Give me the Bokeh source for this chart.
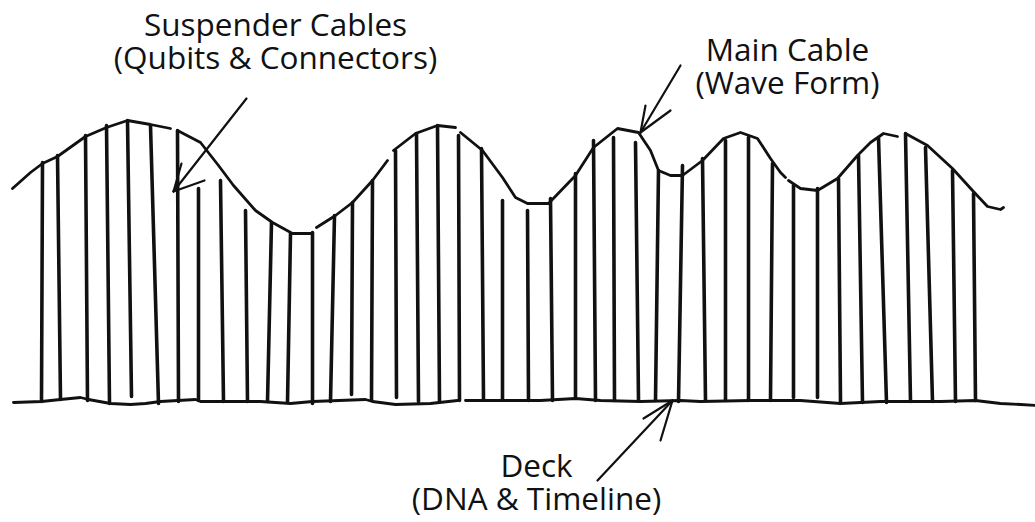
from bokeh.plotting import figure
from bokeh.models import Range1d
from bokeh.core.properties import value
from bokeh.embed import file_html
from bokeh.resources import INLINE

NAN = float("nan")

# Suspender cables (qubits & connectors): top end on the main cable, bottom end on the deck
hanger_top_x = [42, 57, 85, 106, 127, 150, 177, 198, 220, 245, 271, 290, 312, 334, 352, 372, 395,
                416, 437, 458, 481, 502, 527, 550, 575, 593, 613, 635, 658, 682, 702, 725, 748,
                772, 793, 817, 838, 858, 878, 905, 925, 952, 973]
hanger_top_y = [162, 155, 135, 125, 120, 125, 130, 188, 180, 210, 222, 233, 232, 215, 202, 180, 150,
                133, 125, 135, 148, 200, 210, 198, 173, 140, 137, 142, 170, 165, 158, 140, 137,
                163, 185, 188, 178, 155, 137, 133, 147, 170, 193]
hanger_base_x = [41, 60, 87, 109, 131, 158, 178, 198, 223, 247, 267, 287, 312, 330, 351, 371, 396,
                 418, 439, 459, 483, 502, 528, 552, 575, 595, 614, 638, 655, 678, 705, 725, 748,
                 770, 793, 817, 840, 862, 886, 910, 932, 955, 975]
hanger_base_y = [401, 399, 400, 403, 396, 403, 401, 400, 401, 401, 401, 402, 403, 401, 394, 400, 397,
                 401, 401, 400, 399, 399, 400, 400, 397, 400, 400, 400, 400, 401, 400, 400, 400,
                 400, 397, 397, 401, 402, 402, 401, 401, 401, 400]

# Main cable (wave form), NaN = pen lifted
cable_x = [12, 30, 42, 57, 85, 106, 127, 150, 170, NAN,
           177, 200, 218, 233, 255, 272, 292, 312, NAN,
           316, 335, 352, 372, 387, NAN,
           393, 415, 437, 455, NAN,
           460, 482, 502, 515, 527, 548, 575, 593, 617, 638, 650, 658, 670, 682, 702, 723, 740,
           757, 770, 780, 785, NAN,
           788, 800, 817, 837, 857, 870, 883, 897, NAN,
           905, 927, 952, 972, 987, 1000, 1003]
cable_y = [188, 172, 163, 156, 136, 127, 120, 124, 128, NAN,
           130, 142, 165, 185, 210, 222, 233, 233, NAN,
           227, 215, 202, 180, 160, NAN,
           150, 133, 125, 127, NAN,
           132, 150, 177, 197, 203, 203, 175, 147, 128, 132, 150, 170, 175, 175, 160, 138, 132,
           138, 158, 172, 177, NAN,
           180, 188, 190, 178, 155, 142, 133, 136, NAN,
           133, 145, 168, 190, 206, 209, 207]

# Deck (DNA & timeline)
deck_x = [13, 41, 60, 80, 88, 110, 130, 145, 160, 195, 200, 260, 290, 312, 365, 372, 395, 430, 457, NAN,
          465, 540, 575, 600, 640, 680, 700, 750, 800, 840, 880, 940, 975, 1000, 1020, 1035]
deck_y = [402, 401, 399, 397, 399, 403, 404, 403, 401, 399, 401, 401, 403, 401, 399, 401, 404, 403, 400, NAN,
          400, 400, 398, 400, 401, 400, 401, 400, 400, 403, 401, 401, 400, 403, 404, 405]

# Annotation arrows: (tail, tip) and the two barbs
arrow_tail = [(246, 98), (680, 65), (597, 480)]
arrow_tip = [(173, 191), (640, 132), (672, 400)]
arrow_barb1 = [(181, 163), (645, 105), (643, 418)]
arrow_barb2 = [(204, 180), (670, 110), (660, 440)]

labels = [["Suspender Cables", "(Qubits & Connectors)"],
          ["Main Cable", "(Wave Form)"],
          ["Deck", "(DNA & Timeline)"]]
label_cx = [275, 787, 536]
label_base = [23, 48, 464]

INK = "#111111"
W, H = 1035, 520

p = figure(width=W, height=H, output_backend="svg", toolbar_location=None,
           x_range=Range1d(0, W), y_range=Range1d(H, 0),
           min_border=0, min_border_left=0, min_border_right=0,
           min_border_top=0, min_border_bottom=0)
p.axis.visible = False
p.grid.visible = False
p.outline_line_color = None
p.background_fill_color = "white"
p.border_fill_color = "white"

p.segment(x0=hanger_base_x, y0=hanger_base_y, x1=hanger_top_x, y1=hanger_top_y,
          line_color=INK, line_width=3.6, line_cap="round")
p.line(cable_x, cable_y, line_color=INK, line_width=2.8, line_cap="round", line_join="round")
p.line(deck_x, deck_y, line_color=INK, line_width=2.8, line_cap="round", line_join="round")

ax0 = [t[0] for t in arrow_tail] + [b[0] for b in arrow_barb1] + [b[0] for b in arrow_barb2]
ay0 = [t[1] for t in arrow_tail] + [b[1] for b in arrow_barb1] + [b[1] for b in arrow_barb2]
ax1 = [t[0] for t in arrow_tip] * 3
ay1 = [t[1] for t in arrow_tip] * 3
p.segment(x0=ax0, y0=ay0, x1=ax1, y1=ay1, line_color=INK, line_width=2.2, line_cap="round")

lx, ly, lt = [], [], []
for (l1, l2), cx, by in zip(labels, label_cx, label_base):
    lx += [cx, cx]
    ly += [by, by + 33]
    lt += [l1, l2]
p.text(x=lx, y=ly, text=lt, text_align="center", text_baseline="alphabetic",
       text_font=value("Open Sans"), text_font_size="31.5px", text_color=INK)

open("out.html", "w").write(file_html(p, INLINE))
